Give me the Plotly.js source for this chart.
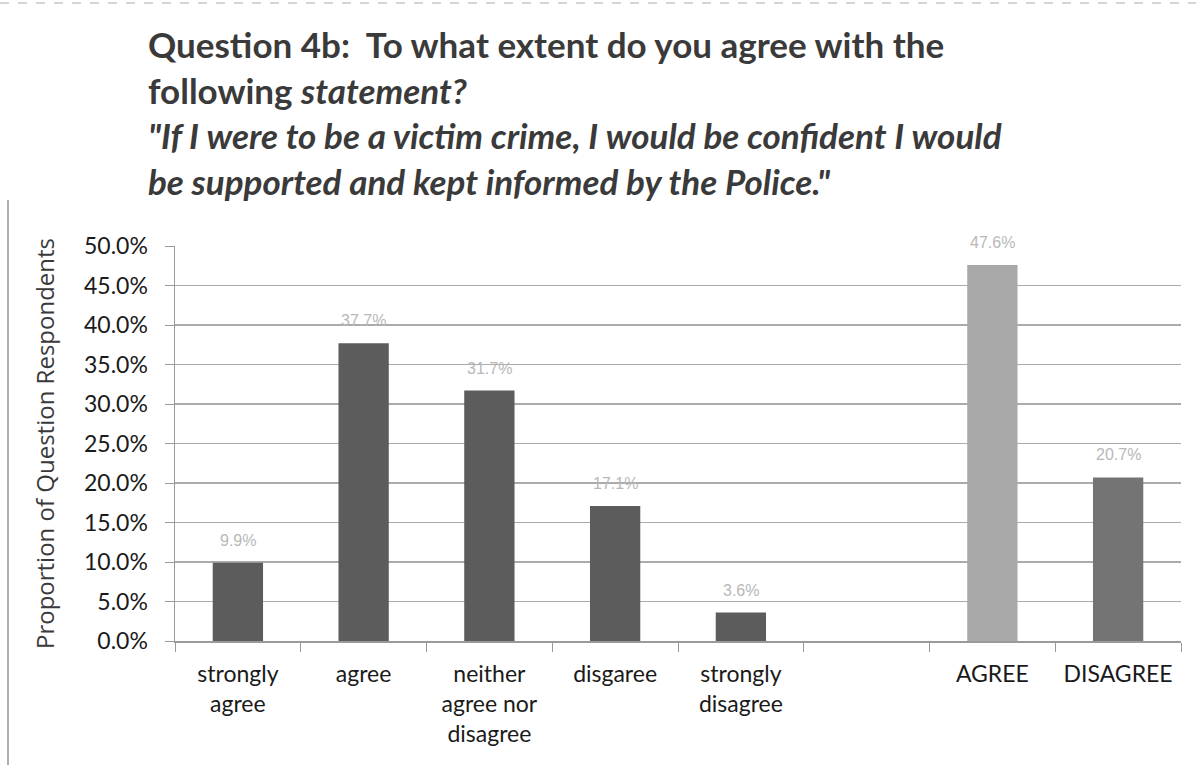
<!DOCTYPE html>
<html>
<head>
<meta charset="utf-8">
<script src="https://cdn.plot.ly/plotly-3.0.1.min.js"></script>
<style>
html,body{margin:0;padding:0;background:#fff;}
#chart{width:1196px;height:765px;}
</style>
</head>
<body>
<div id="chart"></div>
<script>
const categories = ["strongly<br>agree", "agree", "neither<br>agree nor<br>disagree", "disgaree", "strongly<br>disagree", " ", "AGREE", "DISAGREE"];
const values = [9.9, 37.7, 31.7, 17.1, 3.6, null, 47.6, 20.7];
const barColors = ["#5c5c5c", "#5c5c5c", "#5c5c5c", "#5c5c5c", "#5c5c5c", "#5c5c5c", "#a9a9a9", "#747474"];
const yTicks = [0, 5, 10, 15, 20, 25, 30, 35, 40, 45, 50];

const W = 1196, H = 765, L = 175, R = 15, T = 246, B = 124;
const px = v => (v - L) / (W - L - R);
const py = v => 1 - (v - T) / (H - T - B);

const trace = {
  type: "bar",
  x: categories,
  y: values,
  width: 0.4,
  marker: {color: barColors, line: {width: 0}},
  hoverinfo: "skip"
};

const labelAnnotations = categories.map((c, i) => values[i] === null ? null : ({
  x: c, y: values[i], xref: "x", yref: "y",
  text: values[i].toFixed(1) + "%",
  showarrow: false, yanchor: "bottom", yshift: 12,
  font: {family: "Liberation Sans, Arial, sans-serif", size: 16, color: "#b8b8b8"}
})).filter(a => a);

const layout = {
  width: W, height: H,
  margin: {l: L, r: R, t: T, b: B},
  paper_bgcolor: "#ffffff",
  plot_bgcolor: "#ffffff",
  showlegend: false,
  bargap: 0.6,
  xaxis: {
    type: "category",
    categoryorder: "array",
    categoryarray: categories,
    tickfont: {family: "Lato, 'Open Sans', sans-serif", size: 23, color: "#1a1a1a"},
    showline: true, linecolor: "#9a9a9a", linewidth: 1.5,
    ticks: "outside", tickson: "boundaries", ticklen: 9, tickcolor: "#9a9a9a",
    ticklabelstandoff: 12,
    showgrid: false,
    fixedrange: true
  },
  yaxis: {
    range: [0, 50],
    tickvals: yTicks,
    ticktext: yTicks.map(v => v.toFixed(1) + "%"),
    tickfont: {family: "Lato, 'Open Sans', sans-serif", size: 23, color: "#1a1a1a"},
    showline: true, linecolor: "#9a9a9a", linewidth: 1.5,
    ticks: "outside", ticklen: 9, tickcolor: "#9a9a9a",
    ticklabelstandoff: 12,
    showgrid: true, gridcolor: "#ababab", gridwidth: 1.5,
    zeroline: false,
    title: {text: "Proportion of Question Respondents", standoff: 22,
      font: {family: "'Open Sans', Lato, sans-serif", size: 24, color: "#3a3a3a"}},
    fixedrange: true
  },
  annotations: [
    {
      text: "<b>Question 4b:  To what extent do you agree with the<br>following <i>statement?</i><br><i>\"If I were to be a victim crime, I would be confident I would<br>be supported and kept informed by the Police.\"</i></b>",
      xref: "paper", yref: "paper", x: px(146), y: py(21),
      xanchor: "left", yanchor: "top", align: "left", showarrow: false,
      font: {family: "Lato, 'Open Sans', sans-serif", size: 35, color: "#3a3a3a"}
    }
  ].concat(labelAnnotations),
  shapes: [
    {type: "line", xref: "paper", yref: "paper", x0: px(8), x1: px(8), y0: py(200), y1: py(765),
     line: {color: "#b0b0b0", width: 2}},
    {type: "line", xref: "paper", yref: "paper", x0: px(0), x1: px(1196), y0: py(3), y1: py(3),
     line: {color: "#c8c8c8", width: 1.5, dash: "dash"}}
  ]
};

Plotly.newPlot("chart", [trace], layout, {displayModeBar: false, staticPlot: true});
</script>
</body>
</html>
